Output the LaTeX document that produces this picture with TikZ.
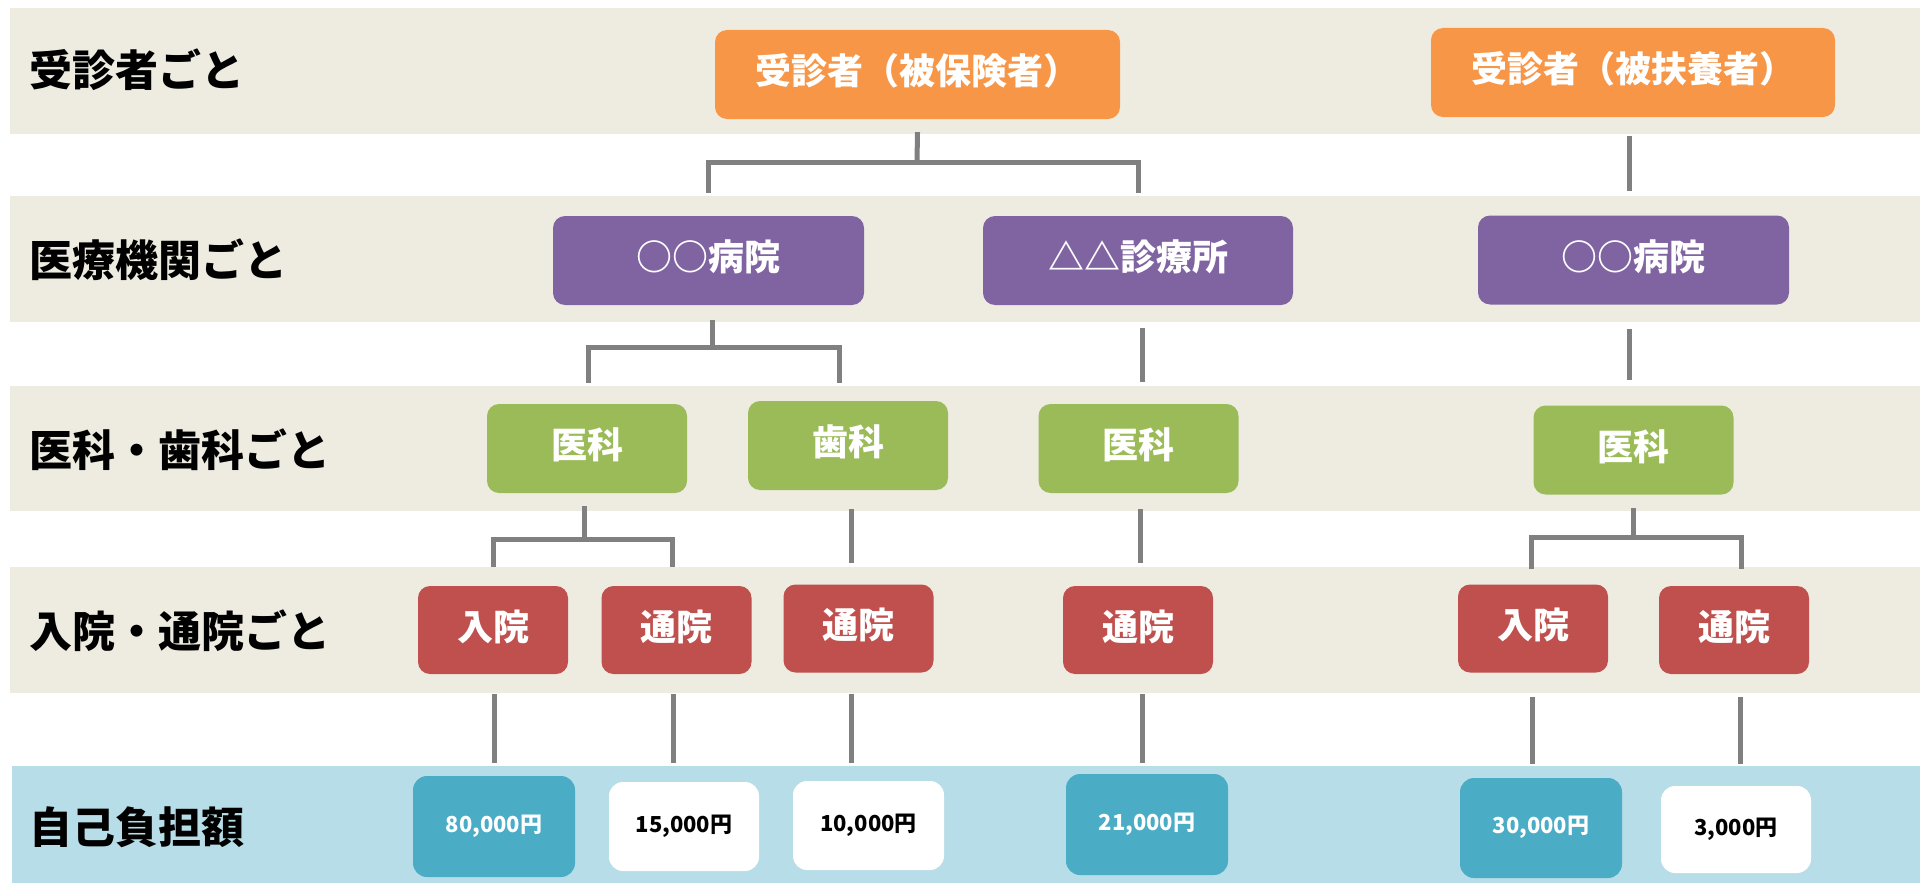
\documentclass[tikz,border=0pt]{standalone}
\usepackage{fontspec}
\setmainfont{Noto Sans CJK JP}
\definecolor{bandbeige}{HTML}{EEECE1}
\definecolor{bandblue}{HTML}{B7DDE8}
\definecolor{orangebox}{HTML}{F79646}
\definecolor{purplebox}{HTML}{8064A2}
\definecolor{greenbox}{HTML}{9BBB59}
\definecolor{redbox}{HTML}{C0504D}
\definecolor{tealbox}{HTML}{4BACC6}
\definecolor{conncol}{HTML}{808080}
\begin{document}
\begin{tikzpicture}[x=1pt,y=-1pt,
  box/.style={rounded corners=12pt, inner sep=0pt, minimum height=89pt, text=white,
    text height=30pt, text depth=10pt,
    font=\fontsize{36}{40}\selectfont\bfseries},
  obox/.style={box, fill=orangebox, minimum width=405pt},
  pbox/.style={box, fill=purplebox, minimum width=311pt},
  gbox/.style={box, fill=greenbox, minimum width=200pt},
  rbox/.style={box, fill=redbox, minimum width=150pt, minimum height=88pt},
  amt/.style={rounded corners=14pt, inner sep=0pt, text height=17pt, text depth=6pt,
    font=\fontsize{22}{26}\selectfont\bfseries},
  tbox/.style={amt, fill=tealbox, text=white, minimum width=162pt, minimum height=101pt},
  wbox/.style={amt, fill=white, text=black, minimum width=150pt, minimum height=89pt},
  rowlabel/.style={anchor=west, inner sep=0pt, text=black, font=\fontsize{43}{47}\selectfont\bfseries},
  conn/.style={draw=conncol, line width=5pt}
]
\useasboundingbox (0,0) rectangle (1920,883);
% bands
\fill[bandbeige] (10,8) rectangle (1920,134);
\fill[bandbeige] (10,196) rectangle (1920,322);
\fill[bandbeige] (10,386) rectangle (1920,511);
\fill[bandbeige] (10,567) rectangle (1920,693);
\fill[bandblue] (12,766) rectangle (1920,883);
% row labels
\node[rowlabel] (L1) at (29,70) {受診者ごと};
\node[rowlabel] (L2) at (29,260) {医療機関ごと};
\node[rowlabel] (L3) at (29,450) {医科・歯科ごと};
\node[rowlabel] (L4) at (29,631) {入院・通院ごと};
\node[rowlabel] (L5) at (29,827) {自己負担額};
% level 1
\node[obox] (O1) at (917.5,74.5) {受診者（被保険者）};
\node[obox, minimum width=404pt] (O2) at (1633,72.5) {受診者（被扶養者）};
% level 2
\node[pbox] (P1) at (708.5,260.5) {○○病院};
\node[pbox, minimum width=310pt] (P2) at (1138,260.5) {△△診療所};
\node[pbox] (P3) at (1633.5,260) {○○病院};
% level 3
\node[gbox] (G1) at (587,448.5) {医科};
\node[gbox] (G2) at (848,445.5) {歯科};
\node[gbox] (G3) at (1138.5,448.5) {医科};
\node[gbox] (G4) at (1633.5,450) {医科};
% level 4
\node[rbox] (R1) at (493,630) {入院};
\node[rbox] (R2) at (676.5,630) {通院};
\node[rbox] (R3) at (858.5,628.5) {通院};
\node[rbox] (R4) at (1138,630) {通院};
\node[rbox] (R5) at (1533,628.5) {入院};
\node[rbox] (R6) at (1734,630) {通院};
% amounts
\node[tbox] (B1) at (494,826.5) {80,000円};
\node[wbox] (B2) at (684,826.5) {15,000円};
\node[wbox, minimum width=151pt] (B3) at (868.5,825.5) {10,000円};
\node[tbox] (B4) at (1147,824.5) {21,000円};
\node[tbox, minimum height=100pt] (B5) at (1541,828) {30,000円};
\node[wbox, minimum height=87pt] (B6) at (1736,829.5) {3,000円};
% bus coordinates
\coordinate (bus1) at (917,162);
\coordinate (bus2) at (712,347);
\coordinate (bus3) at (584,539);
\coordinate (bus4) at (1633,537);
% connectors level 1 -> 2
\draw[conn] ([yshift=-13pt]O1.south) -- (bus1);
\draw[conn] ([yshift=23pt]P1.north) |- (bus1) -| ([yshift=23pt]P2.north);
\draw[conn] ([xshift=-4pt,yshift=-19pt]O2.south) -- ([xshift=-4.5pt,yshift=24pt]P3.north);
% level 2 -> 3
\draw[conn] ([xshift=3.5pt,yshift=-15pt]P1.south) -- (bus2);
\draw[conn] ([xshift=1pt,yshift=21pt]G1.north) |- (bus2) -| ([xshift=-9pt,yshift=18pt]G2.north);
\draw[conn] ([xshift=4pt,yshift=-23pt]P2.south) -- ([xshift=3.5pt,yshift=22pt]G3.north);
\draw[conn] ([xshift=-4.5pt,yshift=-24pt]P3.south) -- ([xshift=-4.5pt,yshift=25pt]G4.north);
% level 3 -> 4
\draw[conn] ([xshift=-3pt,yshift=-13pt]G1.south) -- (bus3);
\draw[conn] ([yshift=19pt]R1.north) |- (bus3) -| ([xshift=-4.5pt,yshift=19pt]R2.north);
\draw[conn] ([xshift=3pt,yshift=-19pt]G2.south) -- ([xshift=-7.5pt,yshift=21pt]R3.north);
\draw[conn] ([xshift=1.5pt,yshift=-16pt]G3.south) -- ([xshift=2pt,yshift=23pt]R4.north);
\draw[conn] ([xshift=-0.5pt,yshift=-13pt]G4.south) -- (bus4);
\draw[conn] ([xshift=-2pt,yshift=15pt]R5.north) |- (bus4) -| ([xshift=7pt,yshift=17pt]R6.north);
% level 4 -> amounts
\draw[conn] ([xshift=1pt,yshift=-20pt]R1.south) -- ([yshift=13pt]B1.north);
\draw[conn] ([xshift=-3.5pt,yshift=-20pt]R2.south) -- ([xshift=-11pt,yshift=19pt]B2.north);
\draw[conn] ([xshift=-7.5pt,yshift=-21pt]R3.south) -- ([xshift=-17.5pt,yshift=18pt]B3.north);
\draw[conn] ([xshift=4pt,yshift=-20pt]R4.south) -- ([xshift=-5pt,yshift=11pt]B4.north);
\draw[conn] ([xshift=-1pt,yshift=-24pt]R5.south) -- ([xshift=-9pt,yshift=14pt]B5.north);
\draw[conn] ([xshift=6pt,yshift=-23pt]R6.south) -- ([xshift=4pt,yshift=22pt]B6.north);
\end{tikzpicture}
\end{document}
